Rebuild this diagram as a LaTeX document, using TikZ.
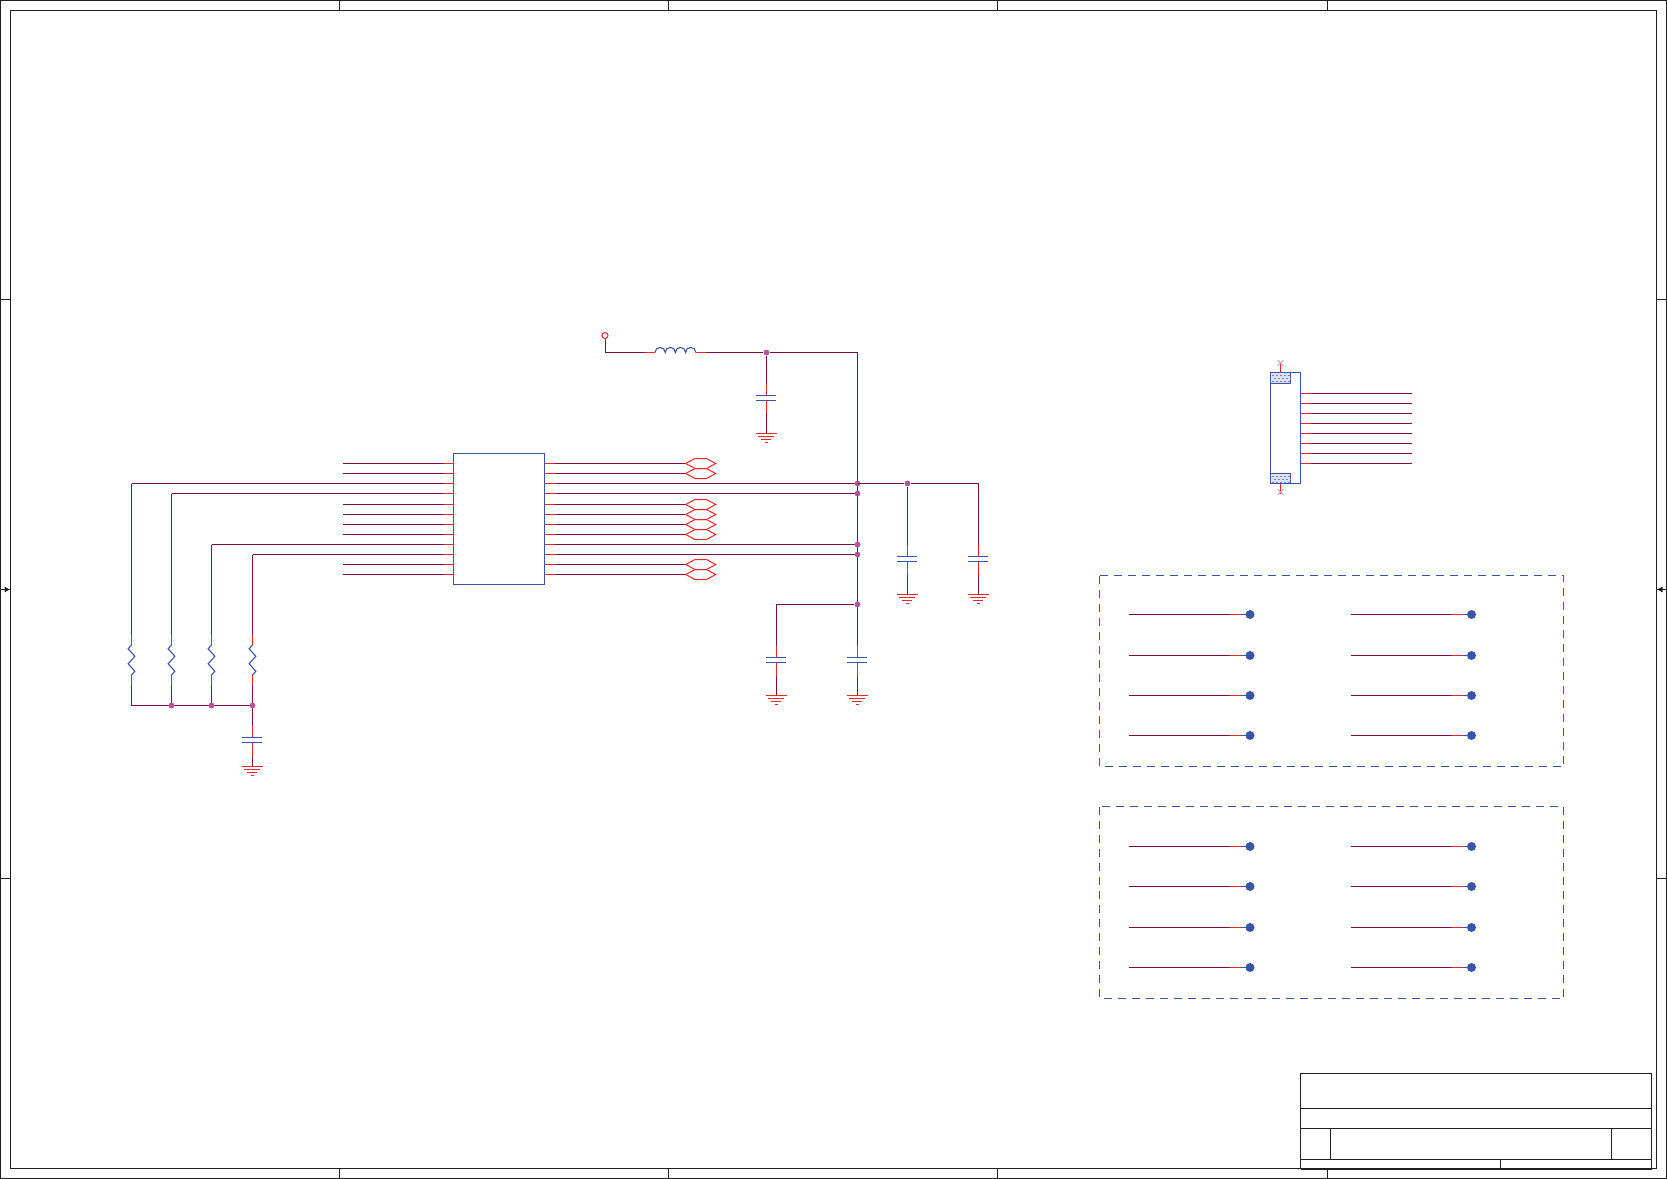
\documentclass[tikz,border=0pt]{standalone}
\usepackage{tikz}
\usetikzlibrary{positioning, arrows.meta}
\definecolor{wirecol}{HTML}{7A1040}
\definecolor{pincol}{HTML}{F02525}
\definecolor{partcol}{HTML}{3A55A5}
\definecolor{dotcol}{HTML}{B84FA0}
\definecolor{framecol}{HTML}{231F20}
\tikzset{
  wire/.style={color=wirecol, line width=0.5pt},
  pin/.style={color=pincol, line width=0.5pt},
  part/.style={color=partcol, line width=0.55pt},
  frameline/.style={color=framecol, line width=0.5pt},
  junction/.style={circle, fill=dotcol, inner sep=0pt, minimum size=2.9pt},
  testpoint/.style={circle, fill=partcol, inner sep=0pt, minimum size=4.5pt},
  chipbox/.style={draw=partcol, line width=0.55pt, inner sep=0pt, minimum width=45.5pt, minimum height=65.5pt},
  hatchbox/.style={draw=partcol, line width=0.55pt, inner sep=0pt, minimum width=10pt, fill=partcol!18},
  hatchrow/.style={color=partcol!70, line width=0.5pt, dash pattern=on 1pt off 1pt},
  netport/.style={color=pincol, line width=0.5pt},
  notconn/.style={color=pincol!40!framecol!40, line width=0.4pt}
}
% capacitor with ground: (#1,#2) is the lower end of the wire above it, #3 the y of the ground bar
\newcommand{\capgnd}[3]{
  \draw[pin] (#1,#2) -- ++(0,12);
  \draw[part] (#1-10.5,#2+12) -- ++(20,0);
  \draw[part] (#1-10.5,#2+17) -- ++(20,0);
  \draw[pin] (#1,#2+17) -- ++(0,13);
  \draw[wire] (#1,#2+30) -- (#1,#3);
  \draw[pin] (#1-10.8,#3) -- ++(21,0);
  \draw[pin] (#1-8.3,#3+3) -- ++(16,0);
  \draw[pin] (#1-5.3,#3+6) -- ++(10,0);
  \draw[pin] (#1-2,#3+9) -- ++(3.4,0);
}
% hexagon port
\newcommand{\hexport}[1]{
  \draw[netport] (685.7,#1) -- (695,#1-5) -- (706.5,#1-5) -- (715.7,#1) -- (706.5,#1+5) -- (695,#1+5) -- cycle;
}
\begin{document}
\begin{tikzpicture}[x=0.5pt, y=-0.5pt]
  \useasboundingbox (0,0) rectangle (1667,1179);

  % sheet frame
  \draw[frameline] (0.5,0.5) rectangle (1666.5,1178.5);
  \draw[frameline] (10.5,10.5) rectangle (1656.5,1168.5);
  \foreach \tx in {339.5,668.5,997.5,1327.5} {
    \draw[frameline] (\tx,0.5) -- (\tx,10.5);
    \draw[frameline] (\tx,1168.5) -- (\tx,1178.5);
  }
  \foreach \ty in {299.5,878.5} {
    \draw[frameline] (0.5,\ty) -- (10.5,\ty);
    \draw[frameline] (1656.5,\ty) -- (1666.5,\ty);
  }
  \draw[frameline, -{Latex[length=3pt,width=3pt]}] (0.5,589.5) -- (10.5,589.5);
  \draw[frameline, -{Latex[length=3pt,width=3pt]}] (1666.5,589.5) -- (1656.5,589.5);

  % title block
  \draw[frameline] (1300.5,1073.5) rectangle (1651.5,1168.5);
  \draw[frameline] (1300.5,1108.5) -- (1651.5,1108.5);
  \draw[frameline] (1300.5,1128.5) -- (1651.5,1128.5);
  \draw[frameline] (1300.5,1159.5) -- (1651.5,1159.5);
  \draw[frameline] (1330.5,1128.5) -- (1330.5,1159.5);
  \draw[frameline] (1611.5,1128.5) -- (1611.5,1159.5);
  \draw[frameline] (1500.5,1159.5) -- (1500.5,1168.5);
  \draw[color=framecol, line width=1pt] (1300.5,1168.5) -- (1651.5,1168.5);

  % chip
  \node[chipbox] (chip) at (499,519) {};
  \foreach \py in {463.5,473.5,483.5,493.5,504.5,514.5,524.5,534.5,544.5,554.5,564.5,574.5} {
    \draw[pin] (443.5,\py) -- (453.5,\py);
    \draw[pin] (544.5,\py) -- (555,\py);
  }
  % short stubs left, hexagon ports right
  \foreach \py in {463.5,473.5,504.5,514.5,524.5,534.5,564.5,574.5} {
    \draw[wire] (342.5,\py) -- (443.5,\py);
    \draw[wire] (555,\py) -- (685.7,\py);
    \hexport{\py}
  }

  % supply bus
  \node[circle, draw=pincol, line width=0.5pt, inner sep=0pt, minimum size=3pt] (vin) at (605,335.5) {};
  \node[junction] (jtop) at (766.5,352.5) {};
  \coordinate (bustop) at (857.5,352.5);
  \coordinate (buslow) at (857.5,645.5);
  \draw[wire] (vin) -- (605,352.5) -- (645,352.5);
  \draw[pin] (645,352.5) -- (655,352.5);
  \draw[part] (655,352.5) arc (180:360:5.1) arc (180:360:5.1) arc (180:360:5.1) arc (180:360:5.1);
  \draw[pin] (695.7,352.5) -- (705.7,352.5);
  \draw[wire] (705.7,352.5) -- (jtop) -- (bustop) -- (buslow);
  \draw[wire] (jtop) -- (766.5,383.5);
  \capgnd{766.5}{383.5}{433.5}

  % rows that reach the bus and the pull-ups
  \foreach \py/\px in {483.5/131.5,493.5/171.5,544.5/211.5,554.5/252.5} {
    \draw[wire] (\px,\py) -- (443.5,\py);
    \draw[wire] (555,\py) -- (857.5,\py);
    \node[junction] at (857.5,\py) {};
    \draw[wire] (\px,\py) -- (\px,635);
    \draw[pin] (\px,635) -- (\px,645);
    \draw[part] (\px,645) -- ++(-3.4,3.75) -- ++(6.8,7.5) -- ++(-6.8,7.5) -- ++(6.8,7.5) -- ++(-3.4,3.75);
    \draw[pin] (\px,675) -- (\px,685);
    \draw[wire] (\px,685) -- (\px,705.5);
  }
  \draw[wire] (131.5,705.5) -- (252.5,705.5) -- (252.5,725.5);
  \foreach \px in {171.5,211.5,252.5} {
    \node[junction] at (\px,705.5) {};
  }
  \capgnd{252.5}{725.5}{766.5}

  % decoupling
  \node[junction] (jcap) at (907.5,483.5) {};
  \coordinate (rcap) at (978.5,483.5);
  \draw[wire] (857.5,483.5) -- (jcap) -- (rcap) -- (978.5,544.5);
  \draw[wire] (jcap) -- (907.5,544.5);
  \capgnd{907.5}{544.5}{594.5}
  \capgnd{978.5}{544.5}{594.5}
  \node[junction] (jlow) at (857.5,604.5) {};
  \draw[wire] (jlow) -- (776.5,604.5) -- (776.5,645.5);
  \capgnd{776.5}{645.5}{695.5}
  \capgnd{857.5}{645.5}{695.5}

  % connector
  \node[draw=partcol, line width=0.55pt, inner sep=0pt, minimum width=15pt, minimum height=55.5pt] (conn) at (1285.5,428) {};
  \node[hatchbox, minimum height=5.5pt] (padtop) at (1280.5,378) {};
  \node[hatchbox, minimum height=5pt] (padbot) at (1280.5,478.5) {};
  \foreach \oy in {0,100.5} {
    \draw[hatchrow] (1271.5,375.5+\oy) -- (1290,375.5+\oy);
    \draw[hatchrow, dash phase=1pt] (1271.5,378.5+\oy) -- (1290,378.5+\oy);
    \draw[hatchrow] (1271.5,381.5+\oy) -- (1290,381.5+\oy);
  }
  \draw[pin] (padtop.north) -- (1280.5,361.5);
  \draw[pin] (padbot.south) -- (1280.5,493.5);
  \foreach \cy in {363,492} {
    \draw[notconn] (1277.5,\cy-3) -- (1283.5,\cy+3);
    \draw[notconn] (1277.5,\cy+3) -- (1283.5,\cy-3);
  }
  \foreach \py in {393.5,403.5,413.5,423.5,433.5,443.5,453.5,463.5} {
    \draw[pin] (1300.5,\py) -- (1311,\py);
    \draw[wire] (1311,\py) -- (1411.5,\py);
  }

  % test point groups
  \draw[part, dash pattern=on 4pt off 3pt] (1099.5,575.5) rectangle (1563.5,766.5);
  \draw[part, dash pattern=on 4pt off 3pt] (1099.5,806.5) rectangle (1563.5,998.5);
  \foreach \py in {614.5,655.5,695.5,735.5,846.5,886.5,927.5,967.5} {
    \foreach \ox in {0,221.5} {
      \draw[wire] (1129+\ox,\py) -- (1230+\ox,\py);
      \draw[pin] (1230+\ox,\py) -- (1240.7+\ox,\py);
      \draw[part] (1240.7+\ox,\py) -- (1250+\ox,\py);
      \node[testpoint] at (1250+\ox,\py) {};
    }
  }
\end{tikzpicture}
\end{document}
